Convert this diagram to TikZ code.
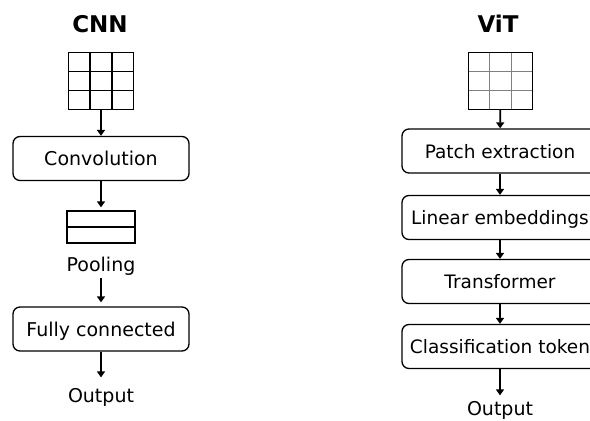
\documentclass[tikz,border=0pt]{standalone}
\usepackage{fontspec}
\setmainfont{DejaVu Sans}
\usetikzlibrary{calc,arrows.meta}

\begin{document}
\begin{tikzpicture}[x=1pt,y=-1pt,
    block/.style={draw, line width=1.3pt, rounded corners=7pt, minimum height=44pt,
        text height=14pt, text depth=0pt, inner sep=0pt, font=\fontsize{19}{22}\selectfont},
    vitblock/.style={block, minimum width=196pt, font=\fontsize{18.5}{22}\selectfont},
    txt/.style={anchor=base, font=\fontsize{19}{22}\selectfont},
    heading/.style={anchor=base, font=\fontsize{23}{26}\selectfont\bfseries},
    patchgrid/.style={line width=1.4pt, minimum width=64pt, minimum height=56pt, inner sep=0pt},
    flow/.style={line width=1.6pt, -{Triangle[length=6pt,width=8pt]}}]

    \clip (0,0) rectangle (590,421);
    \fill[white] (0,0) rectangle (590,421);

    % CNN column
    \node[heading] (cnntitle) at (100,32) {CNN};
    \node[patchgrid] (cnngrid) at (101,81) {};
    \foreach \t in {1,2} {
        \draw[line width=1.3pt] ($(cnngrid.north west)!\t/3!(cnngrid.north east)$) -- ($(cnngrid.south west)!\t/3!(cnngrid.south east)$);
        \draw[line width=1.3pt] ($(cnngrid.north west)!\t/3!(cnngrid.south west)$) -- ($(cnngrid.north east)!\t/3!(cnngrid.south east)$);
    }
    \draw[line width=1.4pt] (cnngrid.north west) rectangle (cnngrid.south east);

    \node[block, minimum width=176pt] (conv) at (101,158.5) {Convolution};
    \node[draw, line width=1.3pt, minimum width=68pt, minimum height=32pt, inner sep=0pt] (pool) at (101,227) {};
    \draw[line width=1.3pt] (pool.west) -- (pool.east);
    \node[txt] (pooltxt) at (101,271) {Pooling};
    \node[block, minimum width=176pt] (fc) at (101,329) {Fully connected};
    \node[txt] (cnnout) at (101,402) {Output};

    \draw[flow] (cnngrid) -- (conv);
    \draw[flow, shorten >=3pt] (conv) -- (pool);
    \draw[flow, shorten >=4pt] (pooltxt) -- (fc);
    \draw[flow, shorten >=7pt] (fc) -- (cnnout);

    % ViT column
    \node[heading] (vittitle) at (498,32) {ViT};
    \node[patchgrid, minimum width=63pt] (vitgrid) at (500.5,81) {};
    \foreach \t in {1,2} {
        \draw[gray, line width=1.2pt] ($(vitgrid.north west)!\t/3!(vitgrid.north east)$) -- ($(vitgrid.south west)!\t/3!(vitgrid.south east)$);
        \draw[gray, line width=1.2pt] ($(vitgrid.north west)!\t/3!(vitgrid.south west)$) -- ($(vitgrid.north east)!\t/3!(vitgrid.south east)$);
    }
    \draw[line width=1.4pt] (vitgrid.north west) rectangle (vitgrid.south east);

    \node[vitblock] (patch) at (500,151) {Patch extraction};
    \node[vitblock] (embed) at (500,217.5) {Linear embeddings};
    \node[vitblock] (trans) at (500,281.5) {Transformer};
    \node[vitblock] (token) at (500,346.5) {Classification token};
    \node[txt] (vitout) at (500,415) {Output};

    \draw[flow] (vitgrid) -- (patch);
    \draw[flow] (patch) -- (embed);
    \draw[flow] (embed) -- (trans);
    \draw[flow] (trans) -- (token);
    \draw[flow, shorten >=2pt] (token) -- (vitout);

\end{tikzpicture}
\end{document}
